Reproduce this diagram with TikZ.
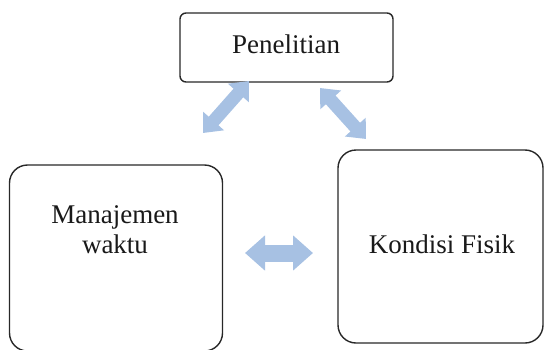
\documentclass[tikz,border=0pt]{standalone}
\usepackage{fontspec}
\setmainfont{Liberation Serif}
\usetikzlibrary{arrows.meta}
\definecolor{arrowblue}{RGB}{167,193,227}
\definecolor{boxline}{RGB}{40,40,40}
\tikzset{
  box/.style={draw=boxline, line width=1.4pt, fill=white, inner sep=0pt},
  lbl/.style={font=\fontsize{27}{30}\selectfont, anchor=base, inner sep=0pt, text=black!90},
  fatdiag/.style={draw=arrowblue, line width=13pt,
    {Triangle[length=16pt, width=27pt]}-{Triangle[length=16pt, width=27pt]}},
  fathor/.style={draw=arrowblue, line width=17pt,
    {Triangle[length=20pt, width=34pt]}-{Triangle[length=20pt, width=34pt]}}
}
\begin{document}
\begin{tikzpicture}[x=1pt, y=1pt]
\useasboundingbox (0,0) rectangle (545,349);
% boxes
\node[box, rounded corners=6pt, minimum width=213pt, minimum height=69pt] (pen) at (286.5,301.5) {};
\node[box, rounded corners=18pt, minimum width=213pt, minimum height=186pt] (man) at (116,91) {};
\node[box, rounded corners=18pt, minimum width=205pt, minimum height=193pt] (kon) at (440.5,102.5) {};
% texts
\node[lbl] (tpen) at (286,296) {Penelitian};
\node[lbl] (tman1) at (115,126) {Manajemen};
\node[lbl] (tman2) at (115,96) {waktu};
\node[lbl] (tkon) at (442,96) {Kondisi Fisik};
% arrow ends
\coordinate (a1) at (249,268);
\coordinate (a2) at (203,216);
\coordinate (b1) at (320,261);
\coordinate (b2) at (366,210);
\coordinate (c1) at (245,96);
\coordinate (c2) at (313,96);
% arrows
\draw[fatdiag] (a1) -- (a2);
\draw[fatdiag] (b1) -- (b2);
\draw[fathor] (c1) -- (c2);
\end{tikzpicture}
\end{document}
